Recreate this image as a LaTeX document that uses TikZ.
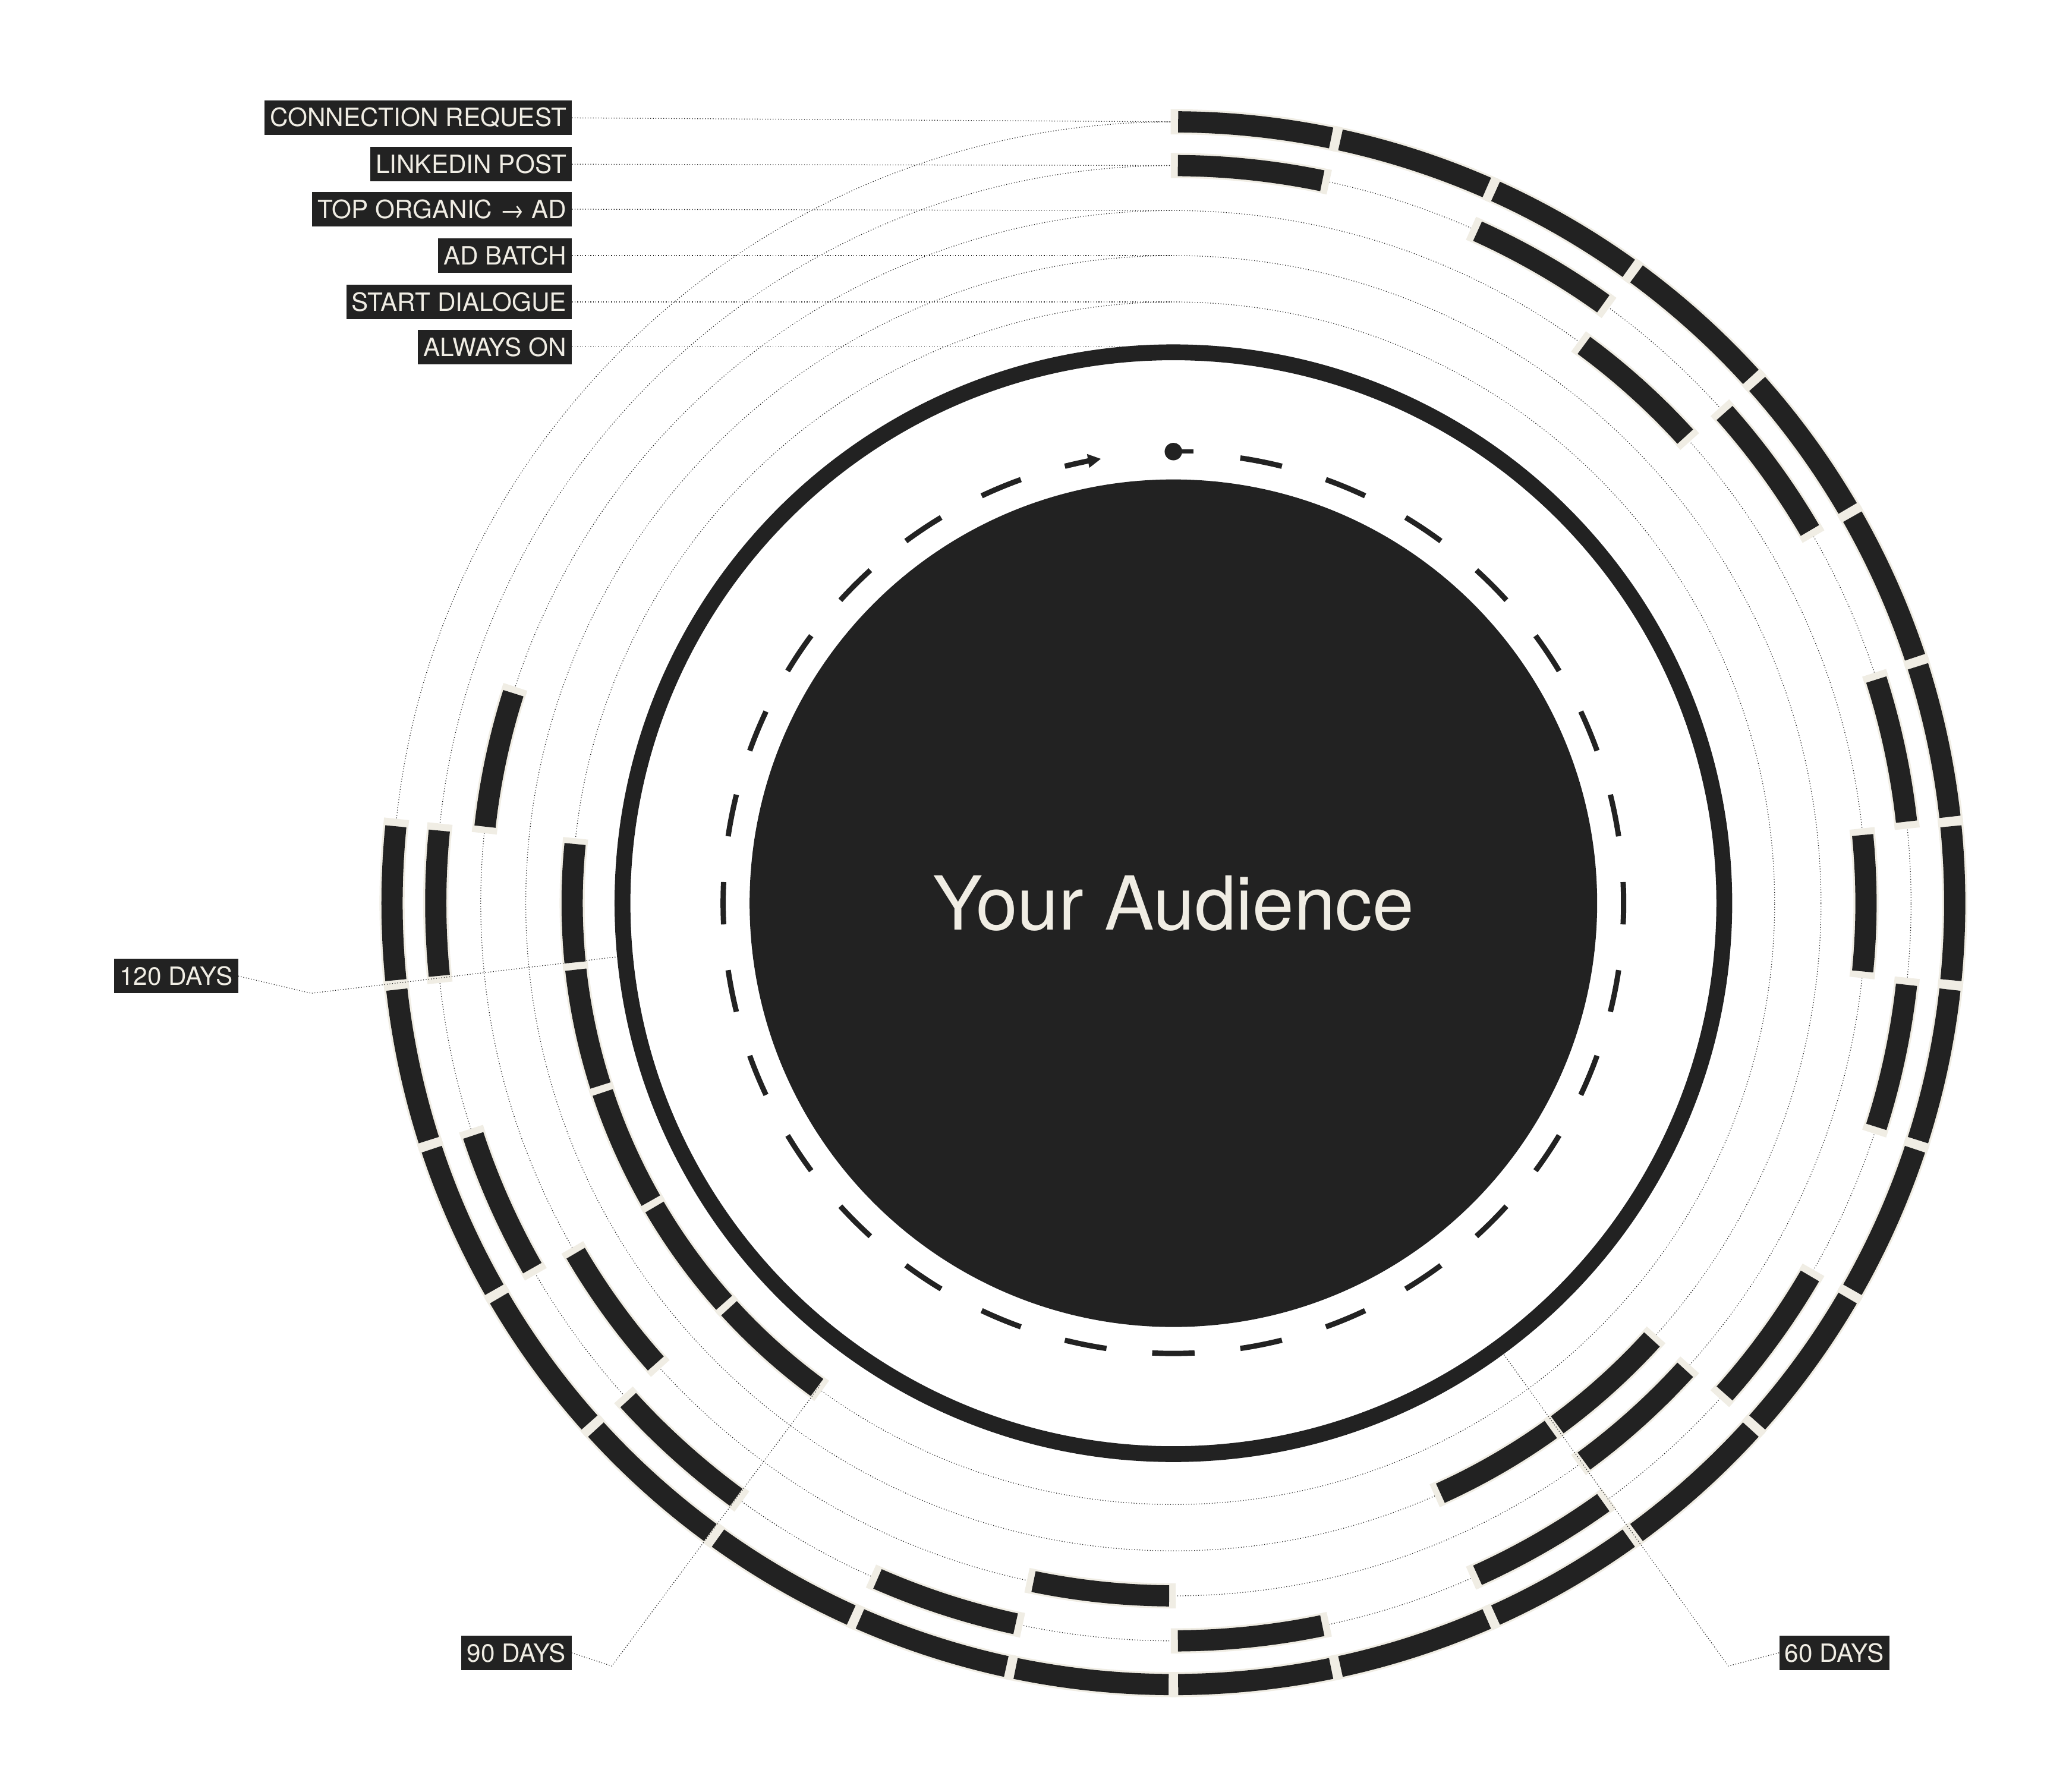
\documentclass[tikz,border=0pt]{standalone}
\usepackage{fontspec}
\setmainfont{TeX Gyre Heros}
\usetikzlibrary{arrows.meta}
\definecolor{ink}{HTML}{222222}
\definecolor{cream}{HTML}{F0EDE4}
\tikzset{
  lab/.style={fill=ink,text=cream,anchor=east,inner xsep=6pt,minimum height=37pt,font=\fontsize{27}{30}\selectfont},
  guide/.style={draw=ink,line width=0.8pt,dotted},
  dashseg/.style={draw=ink,line width=5.7pt}
}
\newcommand{\segm}[3]{%
  \pgfmathsetmacro{\rr}{#1*0.05}%
  \pgfmathsetmacro{\aa}{90-(#2)}%
  \pgfmathsetmacro{\bb}{90-(#3)}%
  \draw[cream,line width=27pt] ({\aa+0.2}:\rr cm) arc[start angle={\aa+0.2},end angle={\bb-0.2},radius=\rr cm];
  \draw[ink,line width=22.8pt] ({\aa-0.35}:\rr cm) arc[start angle={\aa-0.35},end angle={\bb+0.35},radius=\rr cm];}
\begin{document}
\begin{tikzpicture}[x=0.05cm,y=0.05cm]
\useasboundingbox[fill=white] (-886,-671) rectangle (674,682);
% guide circles
\foreach \r in {590,557,523,489,454} \draw[guide] (0,0) circle[radius={\r*0.05cm}];
% labels
\node[lab] (l1) at (-454,593) {CONNECTION REQUEST};
\node[lab] (l2) at (-454,558) {LINKEDIN POST};
\node[lab] (l3) at (-454,524) {TOP ORGANIC → AD};
\node[lab] (l4) at (-454,489) {AD BATCH};
\node[lab] (l5) at (-454,454) {START DIALOGUE};
\node[lab] (l6) at (-454,420) {ALWAYS ON};
\coordinate (t1) at (0,590); \coordinate (t2) at (0,557); \coordinate (t3) at (0,523);
\coordinate (t4) at (0,489); \coordinate (t5) at (0,454); \coordinate (t6) at (0,420);
\foreach \i in {1,...,6} \draw[guide] (l\i.east) -- (t\i);
% track 1
\foreach \k in {0,...,22} {\segm{590}{12*\k}{12*\k+12}}
% track 2
\foreach \k in {0,...,11} {\segm{557}{24*\k}{24*\k+12}}
% track 3
\foreach \k in {0,...,5} {\segm{523}{36+48*\k}{48+48*\k}}
% track 4
\segm{489}{132}{144}\segm{489}{144}{156}
% track 5
\foreach \k in {0,...,4} {\segm{454}{216+12*\k}{228+12*\k}}
% always-on ring
\draw[ink,line width=17pt] (0,0) circle[radius=20.8cm];
% disk
\node[circle,fill=ink,minimum size=32cm,inner sep=0pt] (aud) at (0,0) {};
\node[text=cream,font=\fontsize{80}{90}\selectfont] (audt) at (0,0) {Your Audience};
% dashed circle
\foreach \k in {1,...,30} {\pgfmathsetmacro{\cc}{90-11.25*\k}
  \draw[dashseg] ({\cc+2.7}:17cm) arc[start angle={\cc+2.7},end angle={\cc-2.7},radius=17cm];}
\draw[dashseg,-{Triangle[length=14pt,width=14pt]}] ({101.25+2.7}:17cm) arc[start angle={101.25+2.7},end angle={101.25-2.0},radius=17cm];
\coordinate (dot) at (0,341);
\fill[ink] (dot) circle[radius=0.33cm];
\draw[ink,line width=4.5pt] (dot) -- ++(15,0);
% day labels
\node[lab,anchor=center] (d120) at (-753,-55) {120 DAYS};
\node[lab,anchor=center] (d90) at (-496,-566) {90 DAYS};
\node[lab,anchor=center] (d60) at (499,-566) {60 DAYS};
\coordinate (p120) at (-416,-40); \coordinate (q120) at (-651,-68);
\coordinate (p90) at (-266,-363); \coordinate (q90) at (-424,-576);
\coordinate (p60) at (249,-340); \coordinate (q60) at (419,-576);
\draw[guide] (d120.east) -- (q120) -- (p120);
\draw[guide] (d90.east) -- (q90) -- (p90);
\draw[guide] (d60.west) -- (q60) -- (p60);
\end{tikzpicture}
\end{document}
